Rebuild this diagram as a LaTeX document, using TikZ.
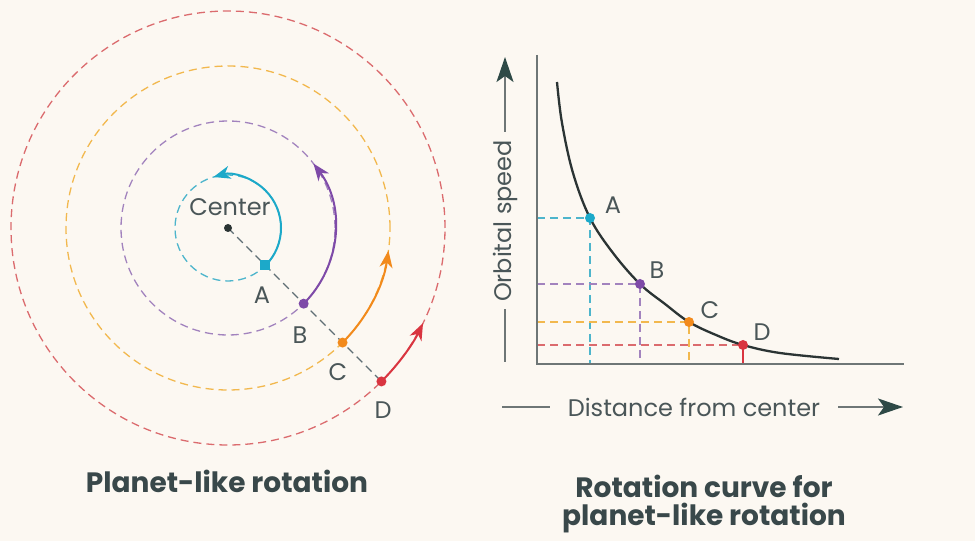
\documentclass[tikz,border=0pt]{standalone}
\usepackage{fontspec}
\setmainfont{Poppins}
\usetikzlibrary{arrows.meta,calc}
\definecolor{bg}{HTML}{FCF8F2}
\definecolor{cyanS}{HTML}{1CA9C9}
\definecolor{cyanD}{HTML}{4DB5CC}
\definecolor{purS}{HTML}{7E4AA8}
\definecolor{purD}{HTML}{A283BE}
\definecolor{oraS}{HTML}{F28A1C}
\definecolor{oraD}{HTML}{F2B84E}
\definecolor{redS}{HTML}{D93540}
\definecolor{redD}{HTML}{DB6B6E}
\definecolor{radc}{HTML}{5F6E74}
\definecolor{curvec}{HTML}{2B3434}
\definecolor{axisc}{HTML}{6E7676}
\definecolor{txt}{HTML}{4A5658}
\definecolor{ttl}{HTML}{39484A}
\definecolor{arrdark}{HTML}{2E4946}
\tikzset{
  orbit/.style={line width=1.3pt, dash pattern=on 8pt off 5pt},
  guide/.style={line width=1.2pt, dash pattern=on 8pt off 5pt},
  motion/.style={line width=2pt, -{Stealth[length=17pt,width=13pt,inset=5pt]}},
  lbl/.style={font=\fontsize{24}{28}\selectfont, text=txt, inner sep=0pt},
  ttlstyle/.style={font=\bfseries\fontsize{28}{28}\selectfont, text=ttl, inner sep=0pt, anchor=base},
  dotnode/.style={circle, inner sep=0pt, minimum size=10pt},
  sqnode/.style={rectangle, inner sep=0pt, minimum size=10pt},
  axisline/.style={line width=1.3pt, draw=axisc},
  axarrow/.style={line width=2pt, draw=axisc, -{Stealth[length=25pt,width=17pt,inset=6pt,color=arrdark,fill=arrdark]}},
  curveline/.style={line width=2.3pt, draw=curvec}
}
\begin{document}
\begin{tikzpicture}[x=1pt,y=1pt]
\fill[bg] (0,0) rectangle (975,541);
\useasboundingbox (0,0) rectangle (975,541);

% ---------- left: orbits ----------
\coordinate (O) at (228,313);
\draw[orbit, draw=cyanD] (O) circle[radius=53];
\draw[orbit, draw=purD] (O) circle[radius=107];
\draw[orbit, draw=oraD] (O) circle[radius=162];
\draw[orbit, draw=redD] (O) circle[radius=217];

\coordinate (pA) at ($(O)+(-45:53)$);
\coordinate (pB) at ($(O)+(-45:107)$);
\coordinate (pC) at ($(O)+(-45:162)$);
\coordinate (pD) at ($(O)+(-45:217)$);

\draw[line width=1.3pt, draw=radc, dash pattern=on 8pt off 5pt] (O) -- (pD);

\draw[motion, draw=cyanS] (pA) arc[start angle=-45, end angle=106, radius=53];
\draw[motion, draw=purS] (pB) arc[start angle=-45, end angle=37, radius=107];
\draw[motion, draw=oraS] (pC) arc[start angle=-45, end angle=-8, radius=162];
\draw[motion, draw=redS] (pD) arc[start angle=-45, end angle=-26, radius=217];

\node[dotnode, fill=curvec, minimum size=8pt] (cdot) at (O) {};
\node[sqnode, fill=cyanS] (dA) at (pA) {};
\node[dotnode, fill=purS] (dB) at (pB) {};
\node[dotnode, fill=oraS] (dC) at (pC) {};
\node[dotnode, fill=redS] (dD) at (pD) {};

\node[lbl] (lcenter) at (230,334) {Center};
\node[lbl] (lA) at (262,246) {A};
\node[lbl] (lB) at (300,206) {B};
\node[lbl] (lC) at (338,169) {C};
\node[lbl] (lD) at (383,131) {D};

\node[ttlstyle] (t1) at (227,48) {Planet-like rotation};

% ---------- right: rotation curve ----------
\coordinate (org) at (537,177);
\coordinate (ytop) at (537,486);
\coordinate (xend) at (904,177);

\draw[guide, draw=cyanD] (537,323) -- (590,323) -- (590,177);
\draw[guide, draw=purD] (537,257) -- (640,257) -- (640,177);
\draw[guide, draw=oraD] (537,219) -- (689,219) -- (689,177);
\draw[guide, draw=redD] (537,196) -- (743,196);
\draw[line width=1.3pt, draw=redS] (743,196) -- (743,177);

\draw[axisline] (ytop) -- (org) -- (xend);

\draw[curveline] plot[smooth, tension=0.6] coordinates {
 (557,459) (562,418) (573,368) (590,323) (613,288) (640,257) (665,237) (689,219) (716,206) (743,196) (780,188) (839,182)};

\node[dotnode, fill=cyanS] (gA) at (590,323) {};
\node[dotnode, fill=purS] (gB) at (640,257) {};
\node[dotnode, fill=oraS] (gC) at (689,219) {};
\node[dotnode, fill=redS] (gD) at (743,196) {};

\node[lbl] (gla) at (613,336) {A};
\node[lbl] (glb) at (657,271) {B};
\node[lbl] (glc) at (710,231) {C};
\node[lbl] (gld) at (762,209) {D};

\node[lbl] (xlab) at (694,134) {Distance from center};
\coordinate (xl0) at (502,134);
\coordinate (xl1) at (903,134);
\draw[axisline, line width=2pt] (xl0) -- ([xshift=-18pt]xlab.west);
\draw[axarrow] ([xshift=18pt]xlab.east) -- (xl1);

\node[lbl, rotate=90] (ylab) at (505,320) {Orbital speed};
\coordinate (yl0) at (505,179);
\coordinate (yl1) at (505,484);
\draw[axisline, line width=2pt] (yl0) -- ([yshift=-7pt]ylab.west);
\draw[axarrow] ([yshift=8pt]ylab.east) -- (yl1);

\node[ttlstyle] (t2a) at (704,43) {Rotation curve for};
\node[ttlstyle] (t2b) at (704,15) {planet-like rotation};
\end{tikzpicture}
\end{document}
